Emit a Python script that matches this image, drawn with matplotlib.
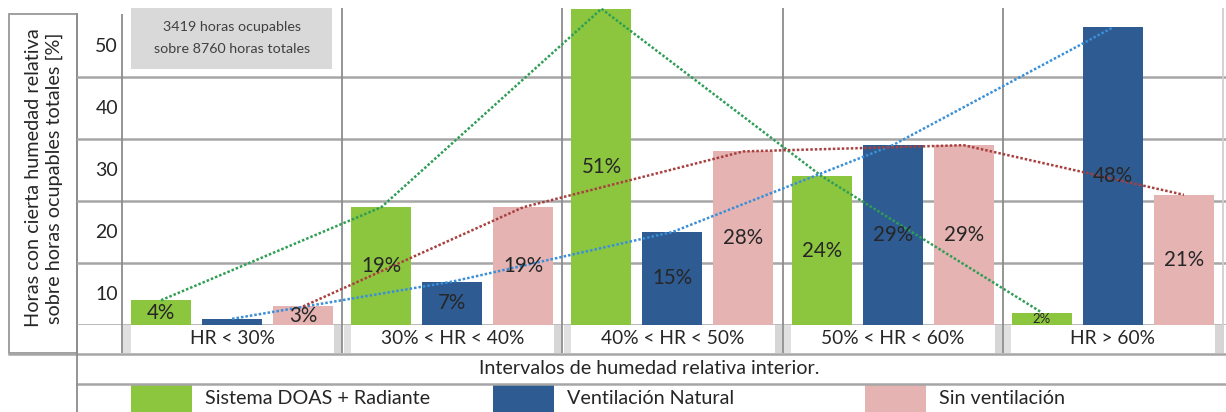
import numpy as np
import matplotlib.pyplot as plt
from matplotlib.patches import Rectangle

# humidity intervals and share of occupied hours per system [%]
categories = ["HR < 30%", "30% < HR < 40%", "40% < HR < 50%", "50% < HR < 60%", "HR > 60%"]
doas_radiante = [4, 19, 51, 24, 2]
ventilacion_natural = [1, 7, 15, 29, 48]
sin_ventilacion = [3, 19, 28, 29, 21]
series_names = ["Sistema DOAS + Radiante", "Ventilación Natural", "Sin ventilación"]
y_labels = [10, 20, 30, 40, 50]

bar_colors = ["#8cc63f", "#2e5b91", "#e6b3b3"]
line_colors = ["#2f9e55", "#3a8fd8", "#a8403f"]
grid_c = "#a6a6a6"
txt_c = "#262626"

plt.rcParams["font.family"] = ["Lato", "DejaVu Sans"]

W, H = 1226, 412
fig = plt.figure(figsize=(W / 100, H / 100), dpi=100)

# overlay in pixel coordinates for the table frame, title box and legend
bg = fig.add_axes([0, 0, 1, 1], zorder=0)
bg.set_xlim(0, W)
bg.set_ylim(H, 0)
bg.axis("off")

# main plotting area: baseline at 325 px, 6.2 px per unit
u = 220.2
base_px = 325
ppu = 6.2
ax = fig.add_axes([77 / W, (H - base_px) / H, (W - 77) / W, base_px / H], zorder=1)
ax.set_facecolor("none")
ax.set_xlim(-0.5 - 45 / u, 4.5 + 3 / u)
ax.set_ylim(0, base_px / ppu)
ax.axis("off")

row_bottom = -28 / ppu  # bottom of the category row (353 px)
top_val = (base_px - 8) / ppu

# horizontal gridlines
for v in [0, 10, 20, 30, 40]:
    ax.axhline(v, color=grid_c, lw=1.8, zorder=1)

# category separators with shaded edges in the label row
x = np.arange(len(categories))
bounds = np.arange(len(categories) + 1) - 0.5
for i, b in enumerate(bounds):
    top = (base_px - 14) / ppu if i == 0 else top_val
    col = "#8c8c8c" if i < len(bounds) - 1 else "#d0d0d0"
    ax.vlines(b, row_bottom, top, color=col, lw=1.3, clip_on=False, zorder=2)
    if i > 0:
        ax.add_patch(Rectangle((b - 8 / u, row_bottom), 7 / u, -row_bottom,
                               color="#d6d6d6", lw=0, clip_on=False, zorder=1))
    if i < len(bounds) - 1:
        ax.add_patch(Rectangle((b + 1.5 / u, row_bottom), 7 / u, -row_bottom,
                               color="#e0e0e0", lw=0, clip_on=False, zorder=1))

for xi, cat in zip(x, categories):
    ax.text(xi, row_bottom / 2, cat, ha="center", va="center", fontsize=13.8,
            color=txt_c, clip_on=False)

# y labels sit half a step below their gridlines
for v in y_labels:
    ax.text(-0.5 - 4 / u, v - 5, str(v), ha="right", va="center", fontsize=14,
            color=txt_c)

# bars, dotted trend lines and value labels
width = 60 / u
offsets = [-71 / u, 0, 71 / u]
series = [doas_radiante, ventilacion_natural, sin_ventilacion]
for vals, off, bc in zip(series, offsets, bar_colors):
    ax.bar(x + off, vals, width, color=bc, zorder=3)
for vals, off, lc in zip(series, offsets, line_colors):
    ax.plot(x + off, vals, color=lc, lw=1.8, ls=(0, (1, 0.8)), zorder=4)
for vals, off in zip(series, offsets):
    for xi, v in zip(x, vals):
        if v < 2:
            continue
        ax.text(xi + off, v / 2, f"{v}%", ha="center", va="center",
                fontsize=14.8 if v > 2 else 9.5, color=txt_c, zorder=5)

# note box
bg.add_patch(Rectangle((131, 8), 201, 61, color="#d9d9d9", lw=0))
bg.text(232, 27, "3419 horas ocupables", ha="center", va="center",
        fontsize=10.3, color="#404040")
bg.text(232, 49, "sobre 8760 horas totales", ha="center", va="center",
        fontsize=10.3, color="#404040")

# y title box
bg.add_patch(Rectangle((9, 14), 68, 339, facecolor="white", edgecolor="#999999", lw=1.3))
bg.text(44, 178, "Horas con cierta humedad relativa\nsobre horas ocupables totales [%]",
        rotation=90, ha="center", va="center", fontsize=14.3, color=txt_c,
        linespacing=1.2, multialignment="center")

# table frame below the plot
bg.plot([9, W], [353.5, 353.5], color=grid_c, lw=1.8)
bg.plot([77, W], [384, 384], color=grid_c, lw=1.8)
bg.plot([77, 77], [14, H], color="#8c8c8c", lw=1.3)
bg.text(649, 369, "Intervalos de humedad relativa interior.", ha="center",
        va="center", fontsize=14.2, color=txt_c)

# legend row
legend_x = [131, 493, 865]
for lx, name, bc in zip(legend_x, series_names, bar_colors):
    bg.add_patch(Rectangle((lx, 385), 61, 27, color=bc, lw=0))
    bg.text(lx + 74, 399, name, ha="left", va="center", fontsize=14.2, color=txt_c)

fig.savefig("out.png", dpi=100, facecolor="white")
